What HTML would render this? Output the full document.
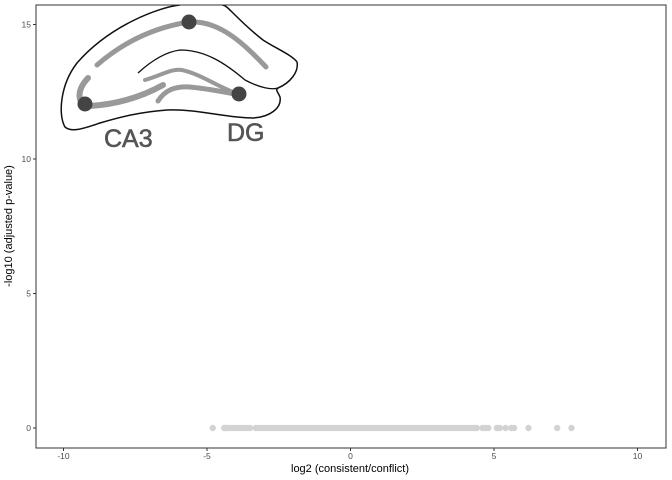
<!DOCTYPE html>
<html><head><meta charset="utf-8"><style>
body{margin:0;background:#fff;}
svg{display:block;font-family:"Liberation Sans",sans-serif;}
</style></head><body>
<svg id="chart" width="672" height="480">
<defs><clipPath id="pc"><rect x="36" y="5" width="630" height="443"/></clipPath></defs>
<g id="points" clip-path="url(#pc)"></g>
<g clip-path="url(#pc)">
<path d="M180,5 C160,7 110,25 77,63 C60,85 58,115 65,127 C72,133 85,128 100,123 C120,117 140,112 167,110 C200,109 225,118 253,118 C270,117 282,108 280,97 C278,92 275,90 278,88 C290,83 299,72 297,62 C292,55 275,48 263,40 C250,30 240,20 232,12 C228,8 225,5 222,5" fill="none" stroke="#111" stroke-width="1.5"/>
<path d="M138,73 C150,62 165,52 180,50 C205,50 225,63 245,80 C260,88 272,90 278,88" fill="none" stroke="#111" stroke-width="1.3"/>
<path d="M97,65 C120,45 150,28 189,22 C220,20 245,45 266,67" fill="none" stroke="#999" stroke-width="5" stroke-linecap="round"/>
<path d="M88,78 C75,92 78,106 90,106 C120,104 145,95 163,85" fill="none" stroke="#999" stroke-width="6" stroke-linecap="round"/>
<path d="M145,80 C160,76 172,68 182,70 C200,74 215,85 233,92" fill="none" stroke="#999" stroke-width="4" stroke-linecap="round"/>
<path d="M158,101 C165,90 175,86 190,87 C210,89 225,92 240,95" fill="none" stroke="#999" stroke-width="5" stroke-linecap="round"/>
<circle cx="189" cy="22" r="7.5" fill="#444"/>
<circle cx="85" cy="104" r="7.5" fill="#444"/>
<circle cx="239" cy="94" r="7.5" fill="#444"/>
<text x="104" y="147" font-size="25" fill="#555" stroke="#555" stroke-width="0.6">CA3</text>
<text x="227" y="141" font-size="25" fill="#555" stroke="#555" stroke-width="0.6">DG</text>
</g>
<rect x="36" y="5" width="630" height="443" fill="none" stroke="#333" stroke-width="1"/>
<g id="axes"></g>
<text x="350" y="472" font-size="11" text-anchor="middle" fill="#000">log2 (consistent/conflict)</text>
<text transform="translate(12,226) rotate(-90)" font-size="11" text-anchor="middle" fill="#000">-log10 (adjusted p-value)</text>
</svg>
<script>
const xVals=[-4.8,-4.4,-4.35,-4.3,-4.2,-4.1,-4.0,-3.9,-3.8,-3.7,-3.6,-3.5,-3.3,-3.2,-3.1,-3.0,-2.9,-2.8,-2.7,-2.6,-2.5,-2.4,-2.3,-2.2,-2.1,-2.0,-1.9,-1.8,-1.7,-1.6,-1.5,-1.4,-1.3,-1.2,-1.1,-1.0,-0.9,-0.8,-0.7,-0.6,-0.5,-0.4,-0.3,-0.2,-0.1,0.0,0.1,0.2,0.3,0.4,0.5,0.6,0.7,0.8,0.9,1.0,1.1,1.2,1.3,1.4,1.5,1.6,1.7,1.8,1.9,2.0,2.1,2.2,2.3,2.4,2.5,2.6,2.7,2.8,2.9,3.0,3.1,3.2,3.3,3.4,3.5,3.6,3.7,3.8,3.9,4.0,4.1,4.2,4.3,4.4,4.6,4.7,4.8,5.1,5.2,5.4,5.6,5.7,6.2,7.2,7.7];
const yVals=xVals.map(()=>0);
const xTicks=[-10,-5,0,5,10];
const yTicks=[0,5,10,15];
const sx=v=>350.5+v*28.7;
const sy=v=>428-v*26.9;
const NS="http://www.w3.org/2000/svg";
const pts=document.getElementById('points');
xVals.forEach((v,i)=>{const c=document.createElementNS(NS,'circle');
c.setAttribute('cx',sx(v));c.setAttribute('cy',sy(yVals[i]));c.setAttribute('r',3.2);c.setAttribute('fill','#d3d3d3');


pts.appendChild(c);});
const ax=document.getElementById('axes');
xTicks.forEach(t=>{const l=document.createElementNS(NS,'line');l.setAttribute('x1',sx(t));l.setAttribute('x2',sx(t));l.setAttribute('y1',448);l.setAttribute('y2',451);l.setAttribute('stroke','#333');ax.appendChild(l);
const tx=document.createElementNS(NS,'text');tx.setAttribute('x',sx(t));tx.setAttribute('y',459);tx.setAttribute('font-size','8.5');tx.setAttribute('fill','#4d4d4d');tx.setAttribute('text-anchor','middle');tx.textContent=t;


ax.appendChild(tx);});
yTicks.forEach(t=>{const l=document.createElementNS(NS,'line');l.setAttribute('x1',33);l.setAttribute('x2',36);l.setAttribute('y1',sy(t));l.setAttribute('y2',sy(t));l.setAttribute('stroke','#333');ax.appendChild(l);
const tx=document.createElementNS(NS,'text');tx.setAttribute('x',31);tx.setAttribute('y',sy(t)+3);tx.setAttribute('font-size','8.5');tx.setAttribute('fill','#4d4d4d');tx.setAttribute('text-anchor','end');tx.textContent=t;


ax.appendChild(tx);});
</script>
</body></html>
